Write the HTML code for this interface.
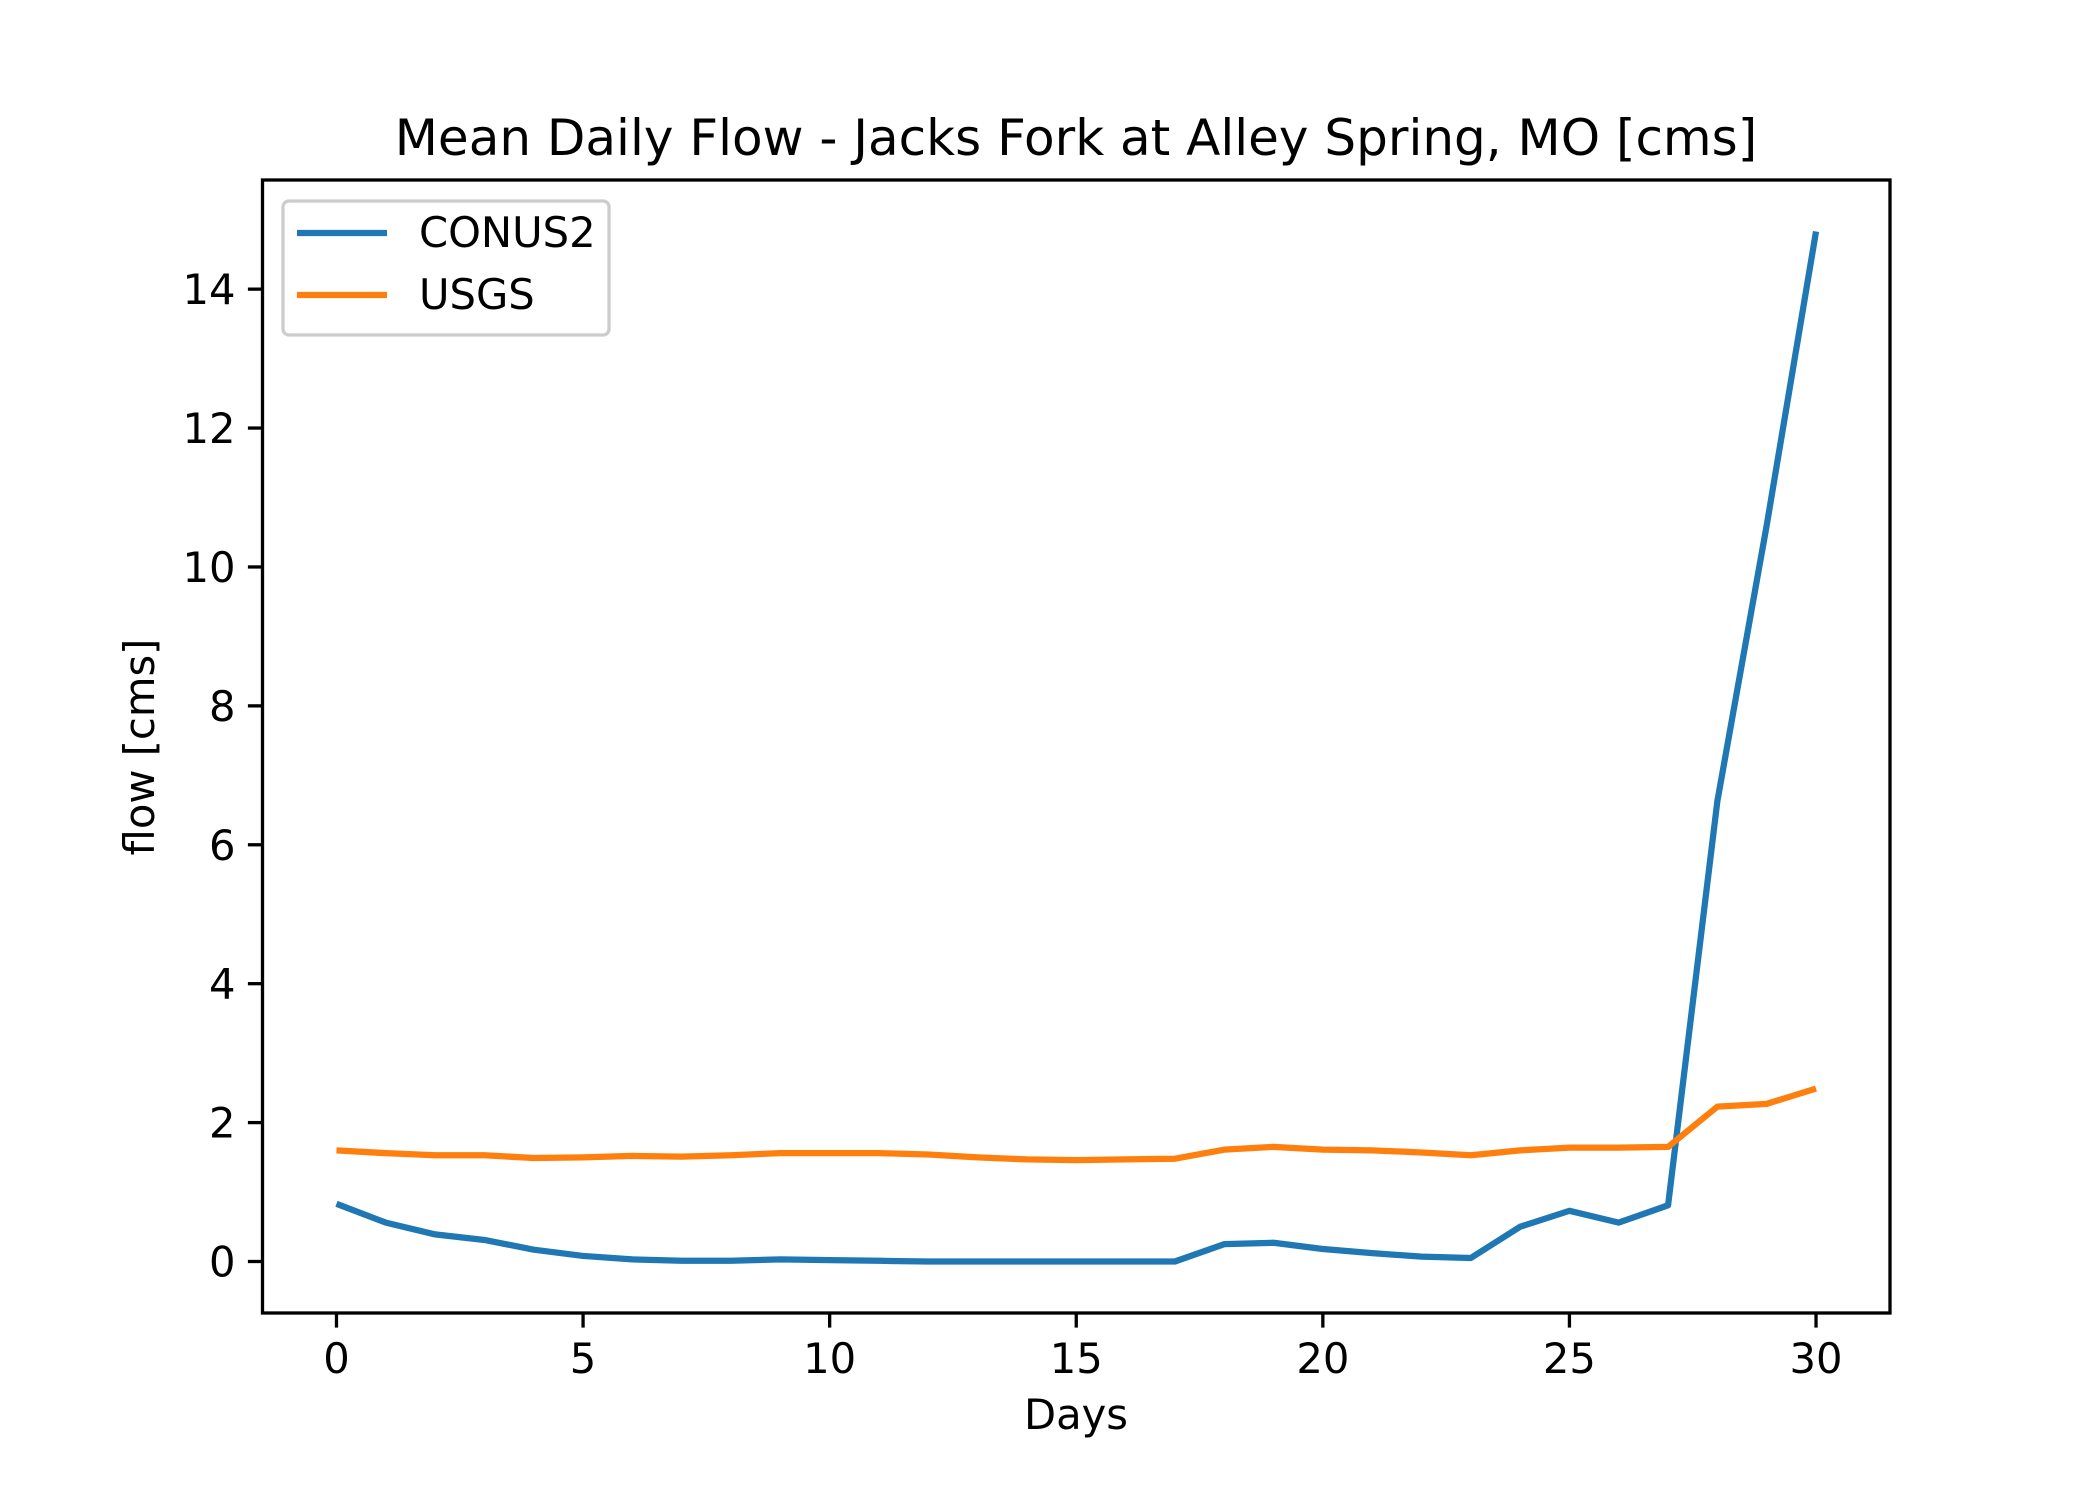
<!DOCTYPE html>
<html><head><meta charset="utf-8"><style>html,body{margin:0;padding:0;background:#fff}svg{display:block}text{font-family:"DejaVu Sans","Liberation Sans",sans-serif;fill:#000}</style></head>
<body>
<svg id="chart" width="2100" height="1500" viewBox="0 0 2100 1500" xmlns="http://www.w3.org/2000/svg">
<rect width="2100" height="1500" fill="#fff"/>
<text x="1076" y="155" font-size="50" text-anchor="middle">Mean Daily Flow - Jacks Fork at Alley Spring, MO [cms]</text>
<g id="plot"></g>
<text x="1076" y="1429" font-size="41.7" text-anchor="middle">Days</text>
<text transform="translate(154,747) rotate(-90)" font-size="41.7" text-anchor="middle">flow [cms]</text>
<g>
<rect x="283" y="201" width="326" height="134" rx="6" fill="#fff" fill-opacity="0.8" stroke="#ccc" stroke-width="3.3"/>
<line x1="297" y1="233" x2="387" y2="233" stroke="#1f77b4" stroke-width="6.25"/>
<text x="419" y="247" font-size="41.7">CONUS2</text>
<line x1="297" y1="295" x2="387" y2="295" stroke="#ff7f0e" stroke-width="6.25"/>
<text x="419" y="309" font-size="41.7">USGS</text>
</g>
</svg>
<script>
const days = Array.from({length:31},(_,i)=>i);
const conus2 = [0.83,0.56,0.39,0.31,0.17,0.08,0.03,0.01,0.01,0.03,0.02,0.01,0,0,0,0,0,0,0.25,0.27,0.18,0.12,0.07,0.05,0.50,0.73,0.56,0.81,6.63,10.6,14.83];
const usgs = [1.60,1.56,1.53,1.53,1.49,1.50,1.52,1.51,1.53,1.56,1.56,1.56,1.54,1.50,1.47,1.46,1.47,1.48,1.61,1.65,1.61,1.60,1.57,1.53,1.60,1.64,1.64,1.65,2.23,2.27,2.49];
const xTicks = [0,5,10,15,20,25,30];
const yTicks = [0,2,4,6,8,10,12,14];

const L=262.5,R=1890,T=180,B=1313;
const all=conus2.concat(usgs);
const ymin0=Math.min(...all), ymax0=Math.max(...all);
const xmin0=Math.min(...days), xmax0=Math.max(...days);
const xm=(xmax0-xmin0)*0.05, ym=(ymax0-ymin0)*0.05;
const x=v=>L+(v-(xmin0-xm))/((xmax0+xm)-(xmin0-xm))*(R-L);
const y=v=>B-(v-(ymin0-ym))/((ymax0+ym)-(ymin0-ym))*(B-T);
const NS='http://www.w3.org/2000/svg';
const g=document.getElementById('plot');
function mk(tag,attrs){const e=document.createElementNS(NS,tag);for(const k in attrs)e.setAttribute(k,attrs[k]);g.appendChild(e);return e;}
function series(vals,color,name){
  const e=mk('polyline',{points:vals.map((v,i)=>x(days[i])+','+y(v)).join(' '),fill:'none',stroke:color,'stroke-width':6.25,'stroke-linejoin':'round','stroke-linecap':'butt'});
  
  
}
series(conus2,'#1f77b4','series-conus2');
series(usgs,'#ff7f0e','series-usgs');
xTicks.forEach(t=>{
  const l=mk('line',{x1:x(t),x2:x(t),y1:B,y2:B+14.6,stroke:'#000','stroke-width':3.3});
  
  
  const tx=mk('text',{x:x(t),y:B+60,'font-size':41.7,'text-anchor':'middle'});
  tx.textContent=t;
  
  
});
yTicks.forEach(t=>{
  const l=mk('line',{x1:L-14.6,x2:L,y1:y(t),y2:y(t),stroke:'#000','stroke-width':3.3});
  
  
  const tx=mk('text',{x:L-27,y:y(t)+15,'font-size':41.7,'text-anchor':'end'});
  tx.textContent=t;
  
  
});
const frame=mk('rect',{x:L,y:T,width:R-L,height:B-T,fill:'none',stroke:'#000','stroke-width':3.3});


</script>
</body></html>
